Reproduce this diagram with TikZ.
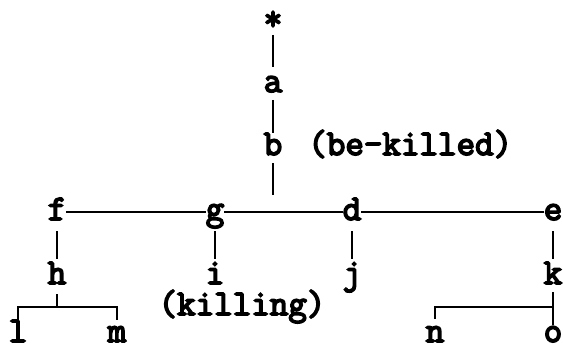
\documentclass[tikz,border=0pt]{standalone}
\usepackage{fontspec}
\newfontfamily\treefont{Latin Modern Mono}[FakeBold=4.5]
\begin{document}
\begin{tikzpicture}[x=1pt,y=-1pt,
  lbl/.style={inner sep=0pt, outer sep=0pt, anchor=base,
    font=\fontsize{36}{40}\selectfont\treefont},
  edge/.style={line width=1.8pt}]
\useasboundingbox (0,0) rectangle (563,353);

% spine
\node[lbl] (star) at (273,30) {*};
\node[lbl] (a) at (273,92) {a};
\node[lbl] (b) at (273,155) {b};
\node[lbl, anchor=base west] (bk) at ([xshift=26pt]b.base east) {(be-killed)};
\coordinate (bj) at (273,195);

% first level
\node[lbl] (f) at (57,220) {f};
\node[lbl] (g) at (215,220) {g};
\node[lbl] (d) at (352,220) {d};
\node[lbl] (e) at (553,220) {e};

% second level
\node[lbl] (h) at (57,284) {h};
\node[lbl] (i) at (215,284) {i};
\node[lbl] (j) at (352,284) {j};
\node[lbl] (k) at (553,284) {k};
\node[lbl, text height=20pt] (kil) at (242,315) {(killing)};

% leaves
\node[lbl] (l) at (18,342) {l};
\node[lbl] (m) at (117,342) {m};
\node[lbl] (n) at (435,342) {n};
\node[lbl] (o) at (553,342) {o};
\coordinate (hj) at (57,307);
\coordinate (kj) at (553,307);

% connectors
\draw[edge] ([yshift=-5pt]star.base) -- ([yshift=25pt]a.base);
\draw[edge] ([yshift=-8pt]a.base) -- ([yshift=22pt]b.base);
\draw[edge] ([yshift=-8pt]b.base) -- (bj);

\draw[edge] ([yshift=8pt]f.base east) -- ([yshift=8pt]g.base west);
\draw[edge] ([yshift=8pt]g.base east) -- ([yshift=8pt]d.base west);
\draw[edge] ([yshift=8pt]d.base east) -- ([yshift=8pt]e.base west);

\draw[edge] ([yshift=-11pt]f.base) -- ([yshift=25pt]h.base);
\draw[edge] ([yshift=-11pt]g.base) -- ([yshift=25pt]i.base);
\draw[edge] ([yshift=-11pt]d.base) -- ([yshift=25pt]j.base);
\draw[edge] ([yshift=-11pt]e.base) -- ([yshift=25pt]k.base);

\draw[edge] ([yshift=-10pt]h.base) -- (hj);
\draw[edge] ([yshift=22pt]l.base) |- (hj) -| ([yshift=22pt]m.base);

\draw[edge] ([yshift=-8pt]k.base) -- ([yshift=17pt]o.base);
\draw[edge] ([yshift=23pt]n.base) |- (kj);
\end{tikzpicture}
\end{document}
